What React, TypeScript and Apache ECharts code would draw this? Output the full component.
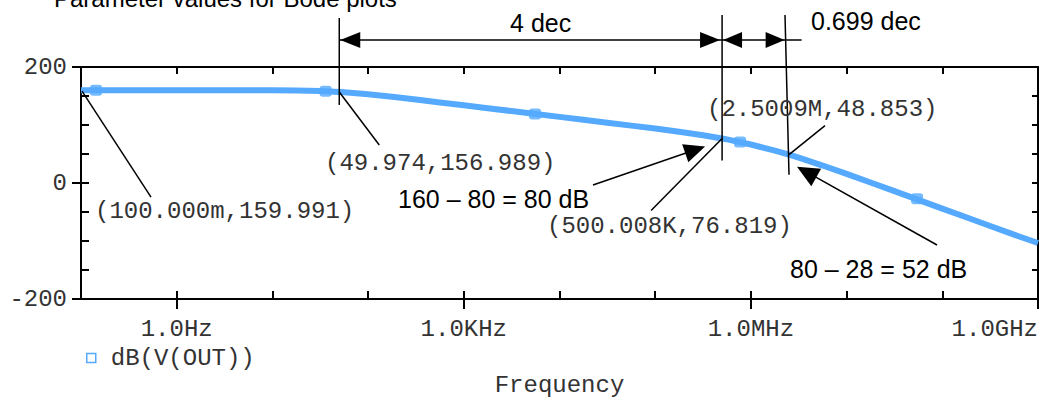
import React, { useEffect, useRef } from "react";
import * as echarts from "echarts";

// ---- data ----
const freqHz = [
  0.1, 1, 3.162, 10, 17.78, 31.62, 49.974, 56.23, 100, 177.8, 316.2, 562.3,
  1000, 1778, 3162, 5623, 1e4, 1.778e4, 3.162e4, 5.623e4, 1e5, 1.778e5,
  3.162e5, 5.00008e5, 5.623e5, 1e6, 1.778e6, 2.5009e6, 3.162e6, 5.623e6, 1e7,
  1.778e7, 3.162e7, 5.623e7, 1e8, 1.778e8, 3.162e8, 5.623e8, 1e9,
];
const gainDb = [
  159.991, 159.99, 159.98, 159.83, 159.48, 158.54, 156.989, 156.45, 153.0,
  148.65, 143.9, 138.95, 133.97, 128.98, 123.98, 118.98, 113.98, 108.98,
  103.96, 98.93, 93.8, 88.44, 82.45, 76.819, 75.22, 66.35, 55.85, 48.853,
  43.7, 30.1, 15.65, 0.83, -14.11, -29.09, -44.08, -59.08, -74.08, -89.08,
  -103.5,
];
const markerHz = [0.1436, 36, 5550, 7.7e5, 5.45e7];
const markerDb = [160.0, 158.2, 119.1, 70.6, -27];

const cursorHz = [0.1, 49.974, 500008, 2500900];
const cursorDb = [159.991, 156.989, 76.819, 48.853];
const cursorText = [
  "(100.000m,159.991)",
  "(49.974,156.989)",
  "(500.008K,76.819)",
  "(2.5009M,48.853)",
];

const xTickLabels: Record<number, string> = {
  0: "1.0Hz",
  3: "1.0KHz",
  6: "1.0MHz",
  9: "1.0GHz",
};
const yTickLabels = [-200, 0, 200];
const seriesName = "dB(V(OUT))";
const titleText = "Parameter values for Bode plots";
const axisTitle = "Frequency";
const spanLabels = ["4 dec", "0.699 dec"];
const diffLabels = ["160 \u2013 80 = 80 dB", "80 \u2013 28 = 52 dB"];

export default function App() {
  const ref = useRef<HTMLDivElement>(null);

  useEffect(() => {
    document.body.style.margin = "0";
    const chart = echarts.init(ref.current!, null, { renderer: "svg" });
    const mono = "Liberation Mono";
    const sans = "Liberation Sans";
    const blue = "#55aaff";
    const ink = "#000";
    const labelColor = "#333";
    const axisLine = { color: ink, width: 2 };

    chart.setOption({
      animation: false,
      grid: {
        left: 81,
        right: 3,
        top: 67,
        bottom: 98,
        containLabel: false,
        outerBoundsMode: "none",
      },
      legend: {
        left: 86,
        top: 346,
        padding: 0,
        icon: "rect",
        itemWidth: 9,
        itemHeight: 9,
        selectedMode: false,
        data: [seriesName],
        itemStyle: {
          color: "rgba(0,0,0,0)",
          borderColor: blue,
          borderWidth: 1.5,
        },
        textStyle: {
          fontFamily: mono,
          fontSize: 24,
          color: labelColor,
          padding: [0, 0, 0, 10],
        },
      },
      xAxis: [
        {
          type: "log",
          logBase: 10,
          min: 0.1,
          max: 1e9,
          interval: 1,
          position: "bottom",
          axisLine: { show: true, onZero: false, lineStyle: axisLine },
          axisTick: { show: true, inside: true, length: 8, lineStyle: axisLine },
          splitLine: { show: false },
          axisLabel: {
            formatter: (v: number) => xTickLabels[Math.round(Math.log10(v))] ?? "",
            margin: 18,
            fontFamily: mono,
            fontSize: 24,
            color: labelColor,
            showMinLabel: true,
            showMaxLabel: true,
            alignMaxLabel: "right",
          },
          name: axisTitle,
          nameLocation: "middle",
          nameGap: 74,
          nameTextStyle: { fontFamily: mono, fontSize: 24, color: labelColor },
        },
        {
          type: "value",
          min: -1,
          max: 9,
          position: "bottom",
          axisLine: { show: false, onZero: false },
          axisTick: {
            show: true,
            inside: false,
            length: 10,
            customValues: [0, 3, 6, 9],
            lineStyle: axisLine,
          },
          axisLabel: { show: false },
          splitLine: { show: false },
        },
        {
          type: "log",
          logBase: 10,
          min: 0.1,
          max: 1e9,
          interval: 1,
          position: "top",
          axisLine: { show: true, onZero: false, lineStyle: axisLine },
          axisTick: { show: true, inside: true, length: 7, lineStyle: axisLine },
          axisLabel: { show: false },
          splitLine: { show: false },
        },
      ],
      yAxis: [
        {
          type: "value",
          min: -200,
          max: 200,
          interval: 50,
          position: "left",
          axisLine: { show: true, onZero: false, lineStyle: axisLine },
          axisTick: { show: true, inside: true, length: 8, lineStyle: axisLine },
          splitLine: { show: false },
          axisLabel: {
            formatter: (v: number) => (yTickLabels.includes(v) ? String(v) : ""),
            margin: 14,
            fontFamily: mono,
            fontSize: 24,
            color: labelColor,
          },
        },
        {
          type: "value",
          min: -200,
          max: 200,
          interval: 200,
          position: "left",
          axisLine: { show: false, onZero: false },
          axisTick: { show: true, inside: false, length: 9, lineStyle: axisLine },
          axisLabel: { show: false },
          splitLine: { show: false },
        },
        {
          type: "value",
          min: -200,
          max: 200,
          interval: 50,
          position: "right",
          axisLine: { show: true, onZero: false, lineStyle: axisLine },
          axisTick: { show: true, inside: true, length: 6, lineStyle: axisLine },
          axisLabel: { show: false },
          splitLine: { show: false },
        },
      ],
      series: [
        {
          type: "line",
          name: seriesName,
          xAxisIndex: 0,
          yAxisIndex: 0,
          data: freqHz.map((f, i) => [f, gainDb[i]]),
          showSymbol: false,
          symbol: "none",
          lineStyle: { color: blue, width: 6 },
          itemStyle: { color: blue },
          z: 2,
        },
        {
          type: "scatter",
          name: "markers",
          xAxisIndex: 0,
          yAxisIndex: 0,
          data: markerHz.map((f, i) => [f, markerDb[i]]),
          symbol: "roundRect",
          symbolSize: [12, 11],
          itemStyle: { color: blue },
          silent: true,
          z: 3,
        },
      ],
    });

    const P = cursorHz.map((f, i) =>
      chart.convertToPixel({ seriesIndex: 0 }, [f, cursorDb[i]]) as number[]
    );
    const [P0, P1, P2, P3] = P;

    const seg = (x1: number, y1: number, x2: number, y2: number, w = 1.5) => ({
      type: "line",
      z: 100,
      silent: true,
      shape: { x1, y1, x2, y2 },
      style: { stroke: ink, lineWidth: w },
    });
    const head = (
      tx: number,
      ty: number,
      sx: number,
      sy: number,
      len: number,
      hw: number
    ) => {
      const dx = tx - sx;
      const dy = ty - sy;
      const d = Math.hypot(dx, dy);
      const ux = dx / d;
      const uy = dy / d;
      const bx = tx - ux * len;
      const by = ty - uy * len;
      return {
        type: "polygon",
        z: 101,
        silent: true,
        shape: {
          points: [
            [tx, ty],
            [bx - uy * hw, by + ux * hw],
            [bx + uy * hw, by - ux * hw],
          ],
        },
        style: { fill: ink },
      };
    };
    const txt = (
      text: string,
      x: number,
      y: number,
      family: string,
      size: number,
      fill: string,
      align = "left"
    ) => ({
      type: "text",
      z: 102,
      silent: true,
      x,
      y,
      style: {
        text,
        fontFamily: family,
        fontSize: size,
        fill,
        align,
        verticalAlign: "middle",
        textAlign: align,
        textVerticalAlign: "middle",
      },
    });

    const arrowY = 40;
    const topY = 15;
    const v3TopX = P3[0] - 4;
    const v3BotY = P3[1] + 20;
    const v3AtArrow = v3TopX + (4 * (arrowY - topY)) / (v3BotY - topY);

    const elements: any[] = [
      txt(titleText, 54, -2, sans, 24, ink),
      // vertical cursor lines
      seg(P1[0], 18, P1[0], P1[1] + 13),
      seg(P2[0], topY, P2[0], P2[1] + 22),
      seg(v3TopX, topY, P3[0], v3BotY),
      // 4 dec dimension
      seg(P1[0], arrowY, P2[0], arrowY),
      head(P1[0] + 1, arrowY, P2[0], arrowY, 20, 8),
      head(P2[0] - 2, arrowY, P1[0], arrowY, 20, 8),
      txt(spanLabels[0], (P1[0] + P2[0]) / 2 + 10, 23, sans, 25, ink, "center"),
      // 0.699 dec dimension
      seg(P2[0], arrowY, v3AtArrow + 16, arrowY),
      head(P2[0] + 1, arrowY, v3AtArrow, arrowY, 19, 8),
      head(v3AtArrow - 1, arrowY, P2[0], arrowY, 19, 8),
      txt(spanLabels[1], 811, 21, sans, 25, ink),
      // cursor leader lines and labels
      seg(P0[0] + 1, P0[1] + 1, P0[0] + 70, P0[1] + 107),
      txt(cursorText[0], 95, 211.5, mono, 24, labelColor),
      seg(P1[0], P1[1], P1[0] + 40, P1[1] + 53),
      txt(cursorText[1], 325, 163, mono, 24, labelColor),
      seg(P2[0], P2[1], P2[0] - 71, P2[1] + 72),
      txt(cursorText[2], 547, 226.5, mono, 24, labelColor),
      seg(P3[0], P3[1], P3[0] + 36, P3[1] - 29),
      txt(cursorText[3], 707, 109.5, mono, 24, labelColor),
      // difference arrows
      seg(593, 185, P2[0] - 26, P2[1] + 11),
      head(P2[0] - 17, P2[1] + 8, 593, 185, 21, 9.5),
      txt(diffLabels[0], 398, 199, sans, 25, ink),
      seg(937, 245, P3[0] + 17, P3[1] + 17),
      head(P3[0] + 8, P3[1] + 12, 937, 245, 22, 10),
      txt(diffLabels[1], 790, 269, sans, 25, ink),
    ];

    chart.setOption({ graphic: { elements } });

    return () => {
      chart.dispose();
    };
  }, []);

  return <div ref={ref} style={{ width: 1041, height: 397 }} />;
}
